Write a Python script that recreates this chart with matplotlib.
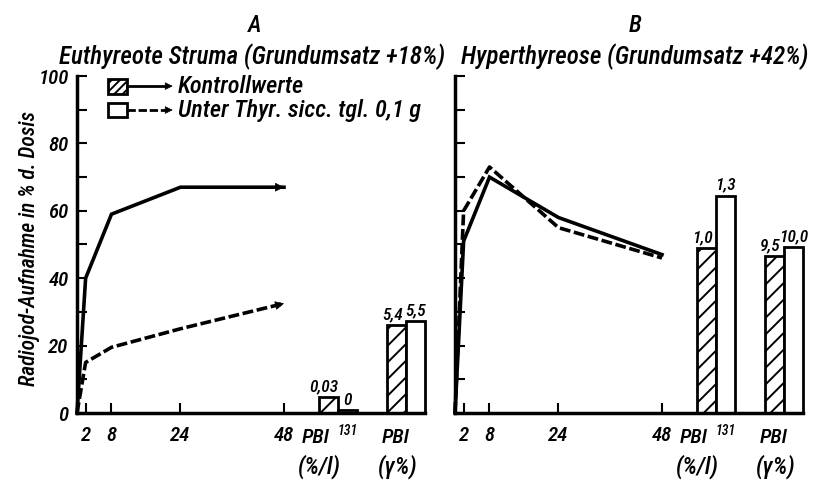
import matplotlib
matplotlib.use('Agg')
import matplotlib.pyplot as plt
from matplotlib.patches import Rectangle
from matplotlib.ticker import MultipleLocator
from matplotlib import font_manager
import matplotlib.transforms as mtransforms

_installed = {f.name for f in font_manager.fontManager.ttflist}
_family = 'DejaVu Sans'
for cand in ['Liberation Sans Narrow', 'DejaVu Sans Condensed', 'Roboto Condensed', 'Roboto',
             'Liberation Sans']:
    if cand in _installed:
        _family = cand
        break
plt.rcParams['font.family'] = [_family, 'DejaVu Sans']
plt.rcParams['font.style'] = 'italic'
plt.rcParams['font.weight'] = 'medium'
plt.rcParams['hatch.linewidth'] = 1.4

# ---------------- data ----------------
hours = [0, 2, 8, 24, 48]
hour_ticks = [2, 8, 24, 48]
hour_labels = ['2', '8', '24', '48']

a_control = [0, 40, 59, 67, 67]
a_thyr = [0, 15, 19.5, 25, 32.5]
b_control = [0, 51, 70, 58, 47]
b_thyr = [0, 60, 73, 55, 46]

bar_groups = ['PBI 131 (%/l)', 'PBI (γ%)']
a_bar_control = [4.8, 26]
a_bar_thyr = [0.8, 27.2]
a_bar_control_lab = ['0,03', '5,4']
a_bar_thyr_lab = ['0', '5,5']
b_bar_control = [49, 46.5]
b_bar_thyr = [64.5, 49.2]
b_bar_control_lab = ['1,0', '9,5']
b_bar_thyr_lab = ['1,3', '10,0']

legend_labels = ['Kontrollwerte', 'Unter Thyr. sicc. tgl. 0,1 g']
titles = ['Euthyreote Struma (Grundumsatz +18%)', 'Hyperthyreose (Grundumsatz +42%)']
panel_letters = ['A', 'B']
ylabel = 'Radiojod-Aufnahme in % d. Dosis'

# ---------------- layout ----------------
W, H = 818, 490
group_pos = [60.5, 76.3]
bar_width = 4.4
dash = (0, (3, 1))
LW = 2.6
FS = 15

fig = plt.figure(figsize=(W / 100, H / 100), dpi=100)
ax_bottom = 1 - 413 / H
ax_h = 337 / H
axA = fig.add_axes([77 / W, ax_bottom, 348 / W, ax_h])
axB = fig.add_axes([455 / W, ax_bottom, 348 / W, ax_h])


def arrow_head(ax, xs, ys):
    # arrowhead at the end of a line, pointing along the last segment
    x0, y0 = xs[-2], ys[-2]
    x1, y1 = xs[-1], ys[-1]
    f = 0.12
    ax.annotate('', xy=(x1, y1), xytext=(x1 - f * (x1 - x0), y1 - f * (y1 - y0)),
                arrowprops=dict(arrowstyle='-|>', color='k', lw=0.5,
                                mutation_scale=14, shrinkA=0, shrinkB=0),
                annotation_clip=False)


def panel(ax, control, thyr, bc, bt, lc, lt, arrows, ylabels):
    ax.plot(hours, control, color='k', lw=LW, clip_on=False, solid_joinstyle='miter')
    ax.plot(hours, thyr, color='k', lw=LW, ls=dash, clip_on=False)
    if arrows:
        arrow_head(ax, hours, control)
        arrow_head(ax, hours, thyr)
    for c, h1, h2, l1, l2 in zip(group_pos, bc, bt, lc, lt):
        ax.bar(c - bar_width / 2, h1, bar_width, facecolor='white', edgecolor='k',
               hatch='//', lw=2, clip_on=False)
        ax.bar(c + bar_width / 2, h2, bar_width, facecolor='white', edgecolor='k',
               lw=2, clip_on=False)
        ax.annotate(l1, xy=(c - bar_width / 2, h1), xytext=(-3, 2), textcoords='offset points',
                    ha='center', va='bottom', fontsize=12.5)
        ax.annotate(l2, xy=(c + bar_width / 2, h2), xytext=(0, 2), textcoords='offset points',
                    ha='center', va='bottom', fontsize=12.5)
    ax.set_xlim(0, group_pos[-1] + bar_width)
    ax.set_ylim(0, 100)
    for s in ['top', 'right']:
        ax.spines[s].set_visible(False)
    for s in ['left', 'bottom']:
        ax.spines[s].set_linewidth(2.5)
    ax.set_xticks(hour_ticks)
    ax.set_xticklabels(hour_labels, fontsize=FS)
    ax.yaxis.set_major_locator(MultipleLocator(20))
    ax.yaxis.set_minor_locator(MultipleLocator(10))
    ax.tick_params(axis='both', which='both', direction='in', length=7, width=1.5)
    ax.tick_params(axis='x', pad=9)
    ax.tick_params(axis='y', pad=6, labelsize=FS)
    if not ylabels:
        ax.set_yticklabels([])
    # group labels under the bars
    tr = mtransforms.blended_transform_factory(ax.transData, ax.transAxes)
    pbi_x = [group_pos[0] - 5.2, group_pos[1] - 2.3]
    unit_x = [group_pos[0] - 4.3, group_pos[1] - 2.0]
    units = ['(%/l)', '(γ%)']
    for px, ux, u in zip(pbi_x, unit_x, units):
        ax.text(px, -0.074, 'PBI', transform=tr, ha='center', va='center', fontsize=FS)
        ax.text(ux, -0.160, u, transform=tr, ha='center', va='center', fontsize=17)
    ax.text(group_pos[0] + 2.3, -0.052, '131', transform=tr, ha='center', va='center', fontsize=10)


panel(axA, a_control, a_thyr, a_bar_control, a_bar_thyr,
      a_bar_control_lab, a_bar_thyr_lab, True, True)
panel(axB, b_control, b_thyr, b_bar_control, b_bar_thyr,
      b_bar_control_lab, b_bar_thyr_lab, False, False)

# legend (drawn by hand, as in the original)
for i, (lab, hatch, ls) in enumerate(zip(legend_labels, ['////', None], ['-', dash])):
    yc = [0.970, 0.899][i]
    axA.add_patch(Rectangle((0.089, yc - 0.022), 0.055, 0.044, transform=axA.transAxes,
                            facecolor='white', edgecolor='k', lw=2, hatch=hatch, clip_on=False))
    axA.plot([0.144, 0.255], [yc, yc], transform=axA.transAxes, color='k', lw=2,
             ls=ls, clip_on=False)
    axA.annotate('', xy=(0.275, yc), xytext=(0.25, yc), xycoords='axes fraction',
                 arrowprops=dict(arrowstyle='-|>', color='k', lw=0.5, mutation_scale=12,
                                 shrinkA=0, shrinkB=0))
    axA.text(0.290, yc, lab, transform=axA.transAxes, ha='left', va='center', fontsize=17.5)

# titles
fig.text(255 / W, 1 - 25 / H, panel_letters[0], ha='center', va='center', fontsize=17)
fig.text(635 / W, 1 - 25 / H, panel_letters[1], ha='center', va='center', fontsize=17)
fig.text(252 / W, 1 - 57 / H, titles[0], ha='center', va='center', fontsize=18)
fig.text(635 / W, 1 - 57 / H, titles[1], ha='center', va='center', fontsize=18)
fig.text(30 / W, 1 - 249 / H, ylabel, rotation=90, ha='center', va='center', fontsize=15.5)

fig.savefig('out.png', dpi=100)
